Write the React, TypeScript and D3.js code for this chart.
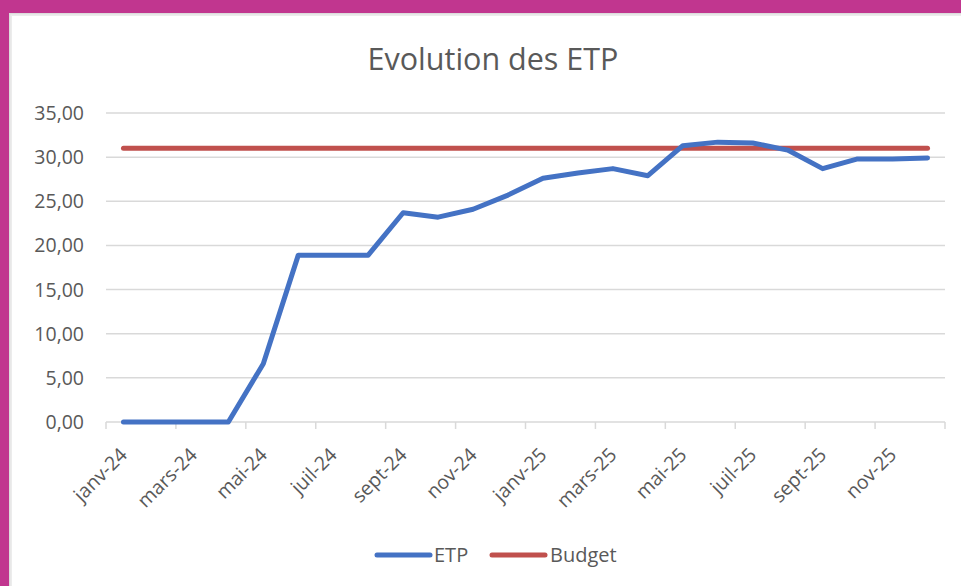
import React from "react";
import * as d3 from "d3";

const months = [
  "janv-24","févr-24","mars-24","avr-24","mai-24","juin-24","juil-24","août-24","sept-24","oct-24","nov-24","déc-24",
  "janv-25","févr-25","mars-25","avr-25","mai-25","juin-25","juil-25","août-25","sept-25","oct-25","nov-25","déc-25",
];
const etp = [0, 0, 0, 0, 6.6, 18.9, 18.9, 18.9, 23.7, 23.2, 24.1, 25.7, 27.6, 28.2, 28.7, 27.9, 31.3, 31.7, 31.6, 30.8, 28.7, 29.8, 29.8, 29.9];
const budget = [31, 31, 31, 31, 31, 31, 31, 31, 31, 31, 31, 31, 31, 31, 31, 31, 31, 31, 31, 31, 31, 31, 31, 31];
const yTicks = [0, 5, 10, 15, 20, 25, 30, 35];
const title = "Evolution des ETP";
const seriesNames = ["ETP", "Budget"];

const W = 961, H = 586;
const FONT = "'Open Sans', sans-serif";
const TXT = "#595959";
const GRID = "#d9d9d9";
const BLUE = "#4472c4";
const RED = "#c0504d";
const MAGENTA = "#c1368f";

export default function App() {
  const x = d3.scaleBand<string>().domain(months).range([106, 945]).padding(0);
  const y = d3.scaleLinear().domain([0, 35]).range([422, 113]);
  const cx = (m: string) => (x(m) as number) + x.bandwidth() / 2;
  const line = d3.line<number>().x((_, i) => cx(months[i])).y((v) => y(v));
  const fmt = (v: number) => v.toFixed(2).replace(".", ",");
  const step = x.step();
  const tickIdx = d3.range(0, months.length + 1, 2);

  return (
    <svg width={W} height={H} style={{ position: "absolute", left: 0, top: 0, background: "#fff" }} fontFamily={FONT}>
      <rect x={0} y={0} width={W} height={H} fill="#fff" />
      {/* shadow */}
      <rect x={9} y={13} width={W} height={3} fill="#ececec" />
      <rect x={9} y={13} width={3} height={H} fill="#ececec" />
      <rect x={9} y={13} width={W} height={1.2} fill="#dcdcdc" />
      <rect x={9} y={13} width={1.2} height={H} fill="#dcdcdc" />
      {/* magenta frame */}
      <rect x={0} y={0} width={W} height={13} fill={MAGENTA} />
      <rect x={0} y={0} width={9} height={H} fill={MAGENTA} />

      <text x={493} y={70} textAnchor="middle" fontSize={30.5} fill={TXT}>{title}</text>

      {yTicks.map((t) => (
        <g key={t}>
          <line x1={106} x2={945} y1={y(t)} y2={y(t)} stroke={GRID} strokeWidth={1.5} />
          <text x={84} y={y(t)} dy="0.36em" textAnchor="end" fontSize={19.5} fill={TXT}>{fmt(t)}</text>
        </g>
      ))}
      {tickIdx.map((i) => (
        <line key={i} x1={106 + i * step} x2={106 + i * step} y1={y(0)} y2={y(0) + 7} stroke={GRID} strokeWidth={1.5} />
      ))}
      {months.map((m, i) =>
        i % 2 === 0 ? (
          <text key={m} transform={`translate(${cx(m) + 5},${456}) rotate(-45)`} textAnchor="end" fontSize={19.5} fill={TXT}>{m}</text>
        ) : null
      )}

      <path d={line(budget) as string} fill="none" stroke={RED} strokeWidth={5} strokeLinecap="round" strokeLinejoin="round" />
      <path d={line(etp) as string} fill="none" stroke={BLUE} strokeWidth={5} strokeLinecap="round" strokeLinejoin="round" />

      {/* legend */}
      <line x1={377} x2={430} y1={555} y2={555} stroke={BLUE} strokeWidth={5} strokeLinecap="round" />
      <text x={434} y={562} fontSize={20} fill={TXT}>{seriesNames[0]}</text>
      <line x1={492} x2={545} y1={555} y2={555} stroke={RED} strokeWidth={5} strokeLinecap="round" />
      <text x={550} y={562} fontSize={20} fill={TXT}>{seriesNames[1]}</text>
    </svg>
  );
}
